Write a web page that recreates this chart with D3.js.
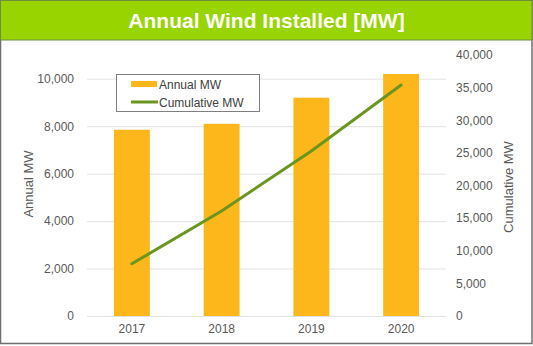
<!DOCTYPE html>
<html>
<head>
<meta charset="utf-8">
<script src="https://cdn.jsdelivr.net/npm/d3@7"></script>
<style>
  body { margin: 0; background: #fff; }
  text { font-family: "Liberation Sans", Arial, sans-serif; }
</style>
</head>
<body>
<svg id="chart" width="533" height="346"></svg>
<script>
var years = ["2017", "2018", "2019", "2020"];
var annualMW = [7850, 8100, 9200, 10200];
var cumulativeMW = [8000, 16100, 25300, 35400];
var leftTicks = [0, 2000, 4000, 6000, 8000, 10000];
var rightTicks = [0, 5000, 10000, 15000, 20000, 25000, 30000, 35000, 40000];

var svg = d3.select("#chart"),
  W = +svg.attr("width"),
  H = +svg.attr("height"),
  margin = {top: 55, right: 87, bottom: 30, left: 87},
  width = W - margin.left - margin.right,
  height = 316 - margin.top;

// frame + title bar
svg.append("rect").attr("x", 0.5).attr("y", 0.5).attr("width", W - 1.5).attr("height", 343)
  .attr("fill", "#fff").attr("stroke", "#6f6f6f").attr("stroke-width", 1.5);
svg.append("rect").attr("x", 0.5).attr("y", 0.5).attr("width", W - 1.5).attr("height", 39.5)
  .attr("fill", "#97d400").attr("stroke", "#6f8f40").attr("stroke-width", 1);
svg.append("text").attr("x", W / 2).attr("y", 28)
  .attr("text-anchor", "middle").attr("fill", "#fff")
  .attr("font-size", 21).attr("font-weight", "bold")
  .text("Annual Wind Installed [MW]");

var main = svg.append("g").attr("transform", "translate(" + margin.left + "," + margin.top + ")");

var x = d3.scaleBand().domain(years).range([0, width]).paddingInner(0.6).paddingOuter(0.3);
var yL = d3.scaleLinear().domain([0, 11000]).range([height, 0]);
var yR = d3.scaleLinear().domain([0, 40000]).range([height, 0]);

// gridlines
main.append("g").selectAll("line").data(leftTicks).join("line")
  .attr("x1", 0).attr("x2", width)
  .attr("y1", function(d) { return yL(d) + 0.5; })
  .attr("y2", function(d) { return yL(d) + 0.5; })
  .attr("stroke", "#e3e3e3").attr("stroke-width", 1);

var fmt = d3.format(",");

var yaxis = d3.axisLeft(yL).tickValues(leftTicks).tickFormat(fmt).tickSize(0).tickPadding(13);
var yraxis = d3.axisRight(yR).tickValues(rightTicks).tickFormat(fmt).tickSize(0).tickPadding(10);
var xaxis = d3.axisBottom(x).tickSize(0).tickPadding(8);

function styleAxis(g) {
  g.select(".domain").remove();
  g.selectAll("text").attr("fill", "#595959").attr("font-size", 12)
    .style("font-family", "'Liberation Sans', Arial, sans-serif");
}

main.append("g").call(yaxis).call(styleAxis);
main.append("g").attr("transform", "translate(" + width + ",0)").call(yraxis).call(styleAxis);

// bars
main.append("g").selectAll("rect").data(annualMW).join("rect")
  .attr("x", function(d, i) { return x(years[i]); })
  .attr("width", x.bandwidth())
  .attr("y", function(d) { return yL(d); })
  .attr("height", function(d) { return height - yL(d); })
  .attr("fill", "#fdb71b");

main.append("g").attr("transform", "translate(0," + height + ")").call(xaxis).call(styleAxis);

// cumulative line
var cumLine = d3.line()
  .x(function(d, i) { return x(years[i]) + x.bandwidth() / 2; })
  .y(function(d) { return yR(d); });

main.append("path")
  .datum(cumulativeMW)
  .attr("fill", "none")
  .attr("stroke", "#6a951f")
  .attr("stroke-width", 3)
  .attr("stroke-linecap", "round")
  .attr("d", cumLine);

// axis titles
svg.append("text").attr("transform", "translate(33,184) rotate(-90)")
  .attr("text-anchor", "middle").attr("fill", "#595959").attr("font-size", 13)
  .text("Annual MW");
svg.append("text").attr("transform", "translate(513,187) rotate(-90)")
  .attr("text-anchor", "middle").attr("fill", "#595959").attr("font-size", 13)
  .text("Cumulative MW");

// legend
var legend = svg.append("g").attr("transform", "translate(116,74)");
legend.append("rect").attr("x", 0.5).attr("y", 0.5).attr("width", 143).attr("height", 37)
  .attr("fill", "#fff").attr("stroke", "#7f7f7f").attr("stroke-width", 1);
legend.append("rect").attr("x", 15).attr("y", 7).attr("width", 26).attr("height", 6).attr("fill", "#fdb71b");
legend.append("text").attr("x", 43).attr("y", 14.5).attr("font-size", 12).attr("fill", "#404040").text("Annual MW");
legend.append("line").attr("x1", 15).attr("x2", 42).attr("y1", 28).attr("y2", 28)
  .attr("stroke", "#6a951f").attr("stroke-width", 3);
legend.append("text").attr("x", 43).attr("y", 32.5).attr("font-size", 12).attr("fill", "#404040").text("Cumulative MW");
</script>
</body>
</html>
